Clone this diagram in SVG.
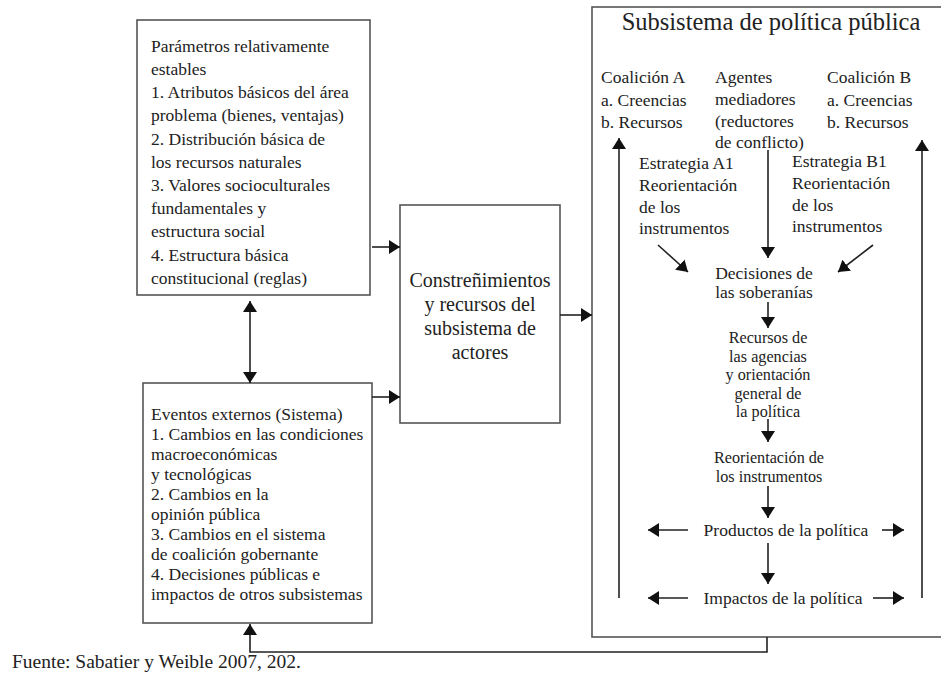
<svg xmlns="http://www.w3.org/2000/svg" width="941" height="682" viewBox="0 0 941 682">
<defs>
<style>
text{font-family:'Liberation Serif','Times New Roman',serif;fill:#222}
.box{fill:#fff;stroke:#555;stroke-width:1.6}
.t{font-size:17.5px}
.s{font-size:17.5px}
.m{font-size:16.2px}
.c{text-anchor:middle}
.ln{stroke:#222;stroke-width:1.6;fill:none}
</style>
<marker id="ah" viewBox="0 0 11 14" refX="11" refY="7" markerWidth="11" markerHeight="14" markerUnits="userSpaceOnUse" orient="auto-start-reverse">
<path d="M0,0 L11,7 L0,14 z" fill="#111"/>
</marker>
</defs>
<rect width="941" height="682" fill="#fff"/>
<g id="parametros">
<rect class="box" x="137" y="20" width="233" height="275"/>
<text class="t" x="151" y="52">Parámetros relativamente</text>
<text class="t" x="151" y="75">estables</text>
<text class="t" x="151" y="98">1. Atributos básicos del área</text>
<text class="t" x="151" y="121">problema (bienes, ventajas)</text>
<text class="t" x="151" y="145">2. Distribución básica de</text>
<text class="t" x="151" y="168">los recursos naturales</text>
<text class="t" x="151" y="191">3. Valores socioculturales</text>
<text class="t" x="151" y="214">fundamentales y</text>
<text class="t" x="151" y="237">estructura social</text>
<text class="t" x="151" y="261">4. Estructura básica</text>
<text class="t" x="151" y="284">constitucional (reglas)</text>
</g>
<g id="eventos">
<rect class="box" x="143" y="383" width="229" height="240"/>
<text class="t" x="151" y="420">Eventos externos (Sistema)</text>
<text class="t" x="151" y="440">1. Cambios en las condiciones</text>
<text class="t" x="151" y="460">macroeconómicas</text>
<text class="t" x="151" y="480">y tecnológicas</text>
<text class="t" x="151" y="500">2. Cambios en la</text>
<text class="t" x="151" y="520">opinión pública</text>
<text class="t" x="151" y="540">3. Cambios en el sistema</text>
<text class="t" x="151" y="560">de coalición gobernante</text>
<text class="t" x="151" y="580">4. Decisiones públicas e</text>
<text class="t" x="151" y="600">impactos de otros subsistemas</text>
</g>
<g id="constrenimientos">
<rect class="box" x="400" y="205" width="160" height="218"/>
<text class="c" x="480" y="287" style="font-size:20px">Constreñimientos</text>
<text class="c" x="480" y="311" style="font-size:20px">y recursos del</text>
<text class="c" x="480" y="335" style="font-size:20px">subsistema de</text>
<text class="c" x="480" y="359" style="font-size:20px">actores</text>
</g>
<g id="subsistema">
<rect class="box" x="592" y="7" width="360" height="630"/>
<text class="c" x="771" y="30" style="font-size:24.5px">Subsistema de política pública</text>
</g>
<g id="coalicionA">
<text class="s" x="601" y="83">Coalición A</text>
<text class="s" x="601" y="106">a. Creencias</text>
<text class="s" x="601" y="128">b. Recursos</text>
</g>
<g id="agentes">
<text class="s" x="715" y="83">Agentes</text>
<text class="s" x="715" y="105">mediadores</text>
<text class="s" x="715" y="127">(reductores</text>
<text class="s" x="715" y="148">de conflicto)</text>
</g>
<g id="coalicionB">
<text class="s" x="827" y="83">Coalición B</text>
<text class="s" x="827" y="106">a. Creencias</text>
<text class="s" x="827" y="128">b. Recursos</text>
</g>
<g id="estrategiaA1">
<text class="s" x="639" y="169">Estrategia A1</text>
<text class="s" x="639" y="191">Reorientación</text>
<text class="s" x="639" y="213">de los</text>
<text class="s" x="639" y="234">instrumentos</text>
</g>
<g id="estrategiaB1">
<text class="s" x="792" y="167">Estrategia B1</text>
<text class="s" x="792" y="189">Reorientación</text>
<text class="s" x="792" y="211">de los</text>
<text class="s" x="792" y="232">instrumentos</text>
</g>
<g id="decisiones">
<text class="s c" x="764" y="279">Decisiones de</text>
<text class="s c" x="764" y="298">las soberanías</text>
</g>
<g id="recursosAgencias">
<text class="m c" x="768" y="343">Recursos de</text>
<text class="m c" x="768" y="361.5">las agencias</text>
<text class="m c" x="768" y="380">y orientación</text>
<text class="m c" x="768" y="398.5">general de</text>
<text class="m c" x="768" y="417">la política</text>
</g>
<g id="reorientacion">
<text class="m c" x="769" y="463">Reorientación de</text>
<text class="m c" x="769" y="481.5">los instrumentos</text>
</g>
<g id="productos">
<text class="s c" x="786" y="536">Productos de la política</text>
</g>
<g id="impactos">
<text class="s c" x="783" y="604">Impactos de la política</text>
</g>
<g id="fuente">
<text x="12" y="668" style="font-size:19.5px">Fuente: Sabatier y Weible 2007, 202.</text>
</g>
<g id="connectors">
<line class="ln" x1="372" y1="247" x2="400" y2="247" marker-end="url(#ah)"/>
<line class="ln" x1="372" y1="397" x2="400" y2="397" marker-end="url(#ah)"/>
<line class="ln" x1="250" y1="301" x2="250" y2="383" marker-start="url(#ah)" marker-end="url(#ah)"/>
<line class="ln" x1="560" y1="315" x2="592" y2="315" marker-end="url(#ah)"/>
<line class="ln" x1="619" y1="598" x2="619" y2="138" marker-end="url(#ah)"/>
<line class="ln" x1="922" y1="598" x2="922" y2="140" marker-end="url(#ah)"/>
<line class="ln" x1="768" y1="150" x2="768" y2="258" marker-end="url(#ah)"/>
<line class="ln" x1="658" y1="245" x2="688" y2="272" marker-end="url(#ah)"/>
<line class="ln" x1="873" y1="245" x2="838" y2="272" marker-end="url(#ah)"/>
<line class="ln" x1="768" y1="302" x2="768" y2="328" marker-end="url(#ah)"/>
<line class="ln" x1="768" y1="419" x2="768" y2="442" marker-end="url(#ah)"/>
<line class="ln" x1="768" y1="486" x2="768" y2="518" marker-end="url(#ah)"/>
<line class="ln" x1="688" y1="530" x2="648" y2="530" marker-end="url(#ah)"/>
<line class="ln" x1="882" y1="530" x2="904" y2="530" marker-end="url(#ah)"/>
<line class="ln" x1="768" y1="543" x2="768" y2="584" marker-end="url(#ah)"/>
<line class="ln" x1="688" y1="598" x2="648" y2="598" marker-end="url(#ah)"/>
<line class="ln" x1="873" y1="598" x2="904" y2="598" marker-end="url(#ah)"/>
<polyline class="ln" points="767,637 767,652 250,652 250,624" marker-end="url(#ah)"/>
</g>
</svg>
